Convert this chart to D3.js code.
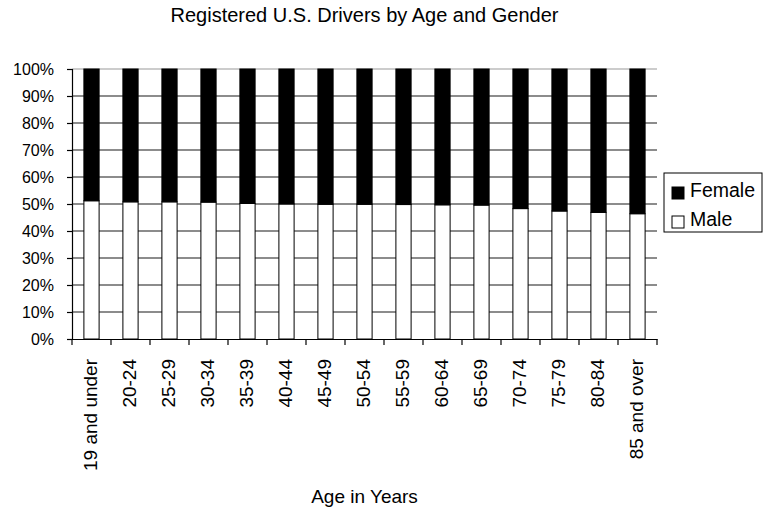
<!DOCTYPE html>
<html>
<head>
<meta charset="utf-8">
<script src="https://cdn.jsdelivr.net/npm/d3@7"></script>
<style>
  body { margin: 0; background: #fff; }
  #drivers-chart text { font-family: "Liberation Sans", Arial, sans-serif; fill: #000; }
</style>
</head>
<body>
<div id="drivers-chart"></div>
<script>
// Age groups along the x axis
const ageGroups = [
  "19 and under", "20-24", "25-29", "30-34", "35-39", "40-44", "45-49", "50-54",
  "55-59", "60-64", "65-69", "70-74", "75-79", "80-84", "85 and over"
];

// Share of registered drivers, percent
const malePct = [51.2, 50.8, 50.8, 50.7, 50.2, 50.0, 49.9, 49.9, 49.8, 49.7, 49.6, 48.3, 47.4, 46.9, 46.4];
const femalePct = [48.8, 49.2, 49.2, 49.3, 49.8, 50.0, 50.1, 50.1, 50.2, 50.3, 50.4, 51.7, 52.6, 53.1, 53.6];

// Series order: Male at the bottom, Female stacked on top
const seriesNames = ["Male", "Female"];
const yTickValues = [0, 10, 20, 30, 40, 50, 60, 70, 80, 90, 100];

(function () {
  const width = 769;
  const height = 512;

  // Plot area
  const margin = { top: 69, right: 112, bottom: 173, left: 72 };
  const innerWidth = width - margin.left - margin.right;
  const innerHeight = height - margin.top - margin.bottom;

  const svg = d3
    .select("#drivers-chart")
    .append("svg")
    .attr("width", width)
    .attr("height", height);

  // Chart title
  svg
    .append("text")
    .attr("x", margin.left + innerWidth / 2)
    .attr("y", 22)
    .attr("text-anchor", "middle")
    .style("font-size", "20px")
    .text("Registered U.S. Drivers by Age and Gender");

  const g = svg
    .append("g")
    .attr("transform", `translate(${margin.left},${margin.top})`);

  // Scales
  const x = d3.scaleBand().domain(ageGroups).range([0, innerWidth]).padding(0);
  const y = d3.scaleLinear().domain([0, 100]).range([innerHeight, 0]);
  const color = d3.scaleOrdinal().domain(seriesNames).range(["#fff", "#000"]);

  // Horizontal gridlines
  g.append("g")
    .selectAll("line")
    .data(yTickValues.filter((d) => d > 0))
    .enter()
    .append("line")
    .attr("x1", 0)
    .attr("x2", innerWidth)
    .attr("y1", (d) => y(d))
    .attr("y2", (d) => y(d))
    .attr("stroke", (d) => (d === 100 ? "#bbb" : "#666"))
    .attr("stroke-width", 1.4);

  // Stack the data
  const rows = ageGroups.map((a, i) => ({ age: a, Male: malePct[i], Female: femalePct[i] }));
  const stacked = d3.stack().keys(seriesNames)(rows);

  const barWidth = x.bandwidth() * 0.39;

  g.append("g")
    .selectAll("g")
    .data(stacked)
    .enter()
    .append("g")
    .attr("fill", (d) => color(d.key))
    .selectAll("rect")
    .data((d) => d)
    .enter()
    .append("rect")
    .attr("x", (d) => x(d.data.age) + (x.bandwidth() - barWidth) / 2)
    .attr("y", (d) => y(d[1]))
    .attr("width", barWidth)
    .attr("height", (d) => y(d[0]) - y(d[1]))
    .attr("stroke", "#000")
    .attr("stroke-width", 1);

  // Y axis
  const yAxisGroup = g
    .append("g")
    .call(
      d3.axisLeft(y)
        .tickValues(yTickValues)
        .tickFormat((d) => d + "%")
        .tickSize(5)
        .tickPadding(13)
    );
  yAxisGroup.selectAll("text").style("font-size", "16px");
  yAxisGroup.selectAll("path, line").attr("stroke", "#000").attr("stroke-width", 1.2);

  // X axis, ticks on category boundaries
  const xAxisGroup = g
    .append("g")
    .attr("transform", `translate(0,${innerHeight})`)
    .call(d3.axisBottom(x).tickSize(0).tickSizeOuter(0).tickPadding(0));
  xAxisGroup.select(".domain").attr("stroke", "#000").attr("stroke-width", 1.2);

  xAxisGroup
    .append("g")
    .selectAll("line")
    .data(d3.range(ageGroups.length + 1))
    .enter()
    .append("line")
    .attr("x1", (i) => i * x.step())
    .attr("x2", (i) => i * x.step())
    .attr("y1", 0)
    .attr("y2", 6)
    .attr("stroke", "#000")
    .attr("stroke-width", 1.2);

  xAxisGroup
    .selectAll(".tick text")
    .style("font-size", "19px")
    .attr("text-anchor", "end")
    .attr("transform", "rotate(-90)")
    .attr("x", -20)
    .attr("y", 0)
    .attr("dy", "0.3em");

  // X axis title
  svg
    .append("text")
    .attr("x", margin.left + innerWidth / 2)
    .attr("y", 503)
    .attr("text-anchor", "middle")
    .style("font-size", "19px")
    .text("Age in Years");

  // Legend
  const legend = svg.append("g").attr("transform", "translate(664,173)");
  legend
    .append("rect")
    .attr("width", 98)
    .attr("height", 59)
    .attr("fill", "#fff")
    .attr("stroke", "#000")
    .attr("stroke-width", 1);

  const legendItems = legend
    .selectAll(".legend-item")
    .data(["Female", "Male"])
    .enter()
    .append("g")
    .attr("class", "legend-item")
    .attr("transform", (d, i) => `translate(8,${14 + i * 29})`);

  legendItems
    .append("rect")
    .attr("width", 12)
    .attr("height", 12)
    .attr("fill", (d) => color(d))
    .attr("stroke", "#000")
    .attr("stroke-width", 1);

  legendItems
    .append("text")
    .attr("x", 18)
    .attr("y", 10)
    .style("font-size", "19.5px")
    .text((d) => d);
})();
</script>
</body>
</html>
